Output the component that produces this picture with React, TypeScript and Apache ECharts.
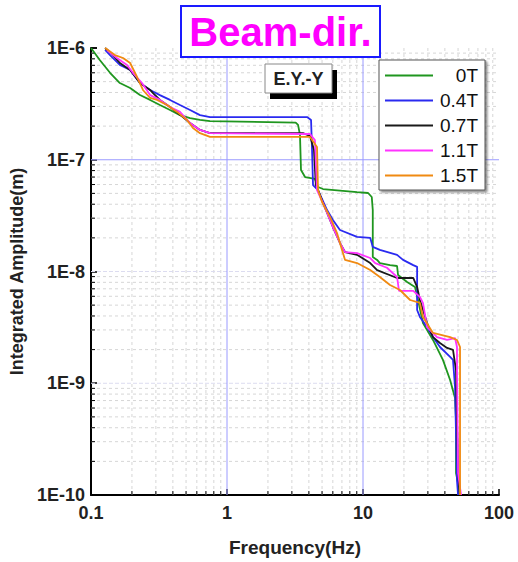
import React, { useEffect, useRef } from "react";
import * as echarts from "echarts";

const FONT = "'Liberation Sans', Arial, sans-serif";

const seriesNames = ["0T", "0.4T", "0.7T", "1.1T", "1.5T"];
const seriesColors = ["#1f961f", "#2a2af0", "#1a1a1a", "#ff33ff", "#f08a12"];

const xTickLabels = ["0.1", "1", "10", "100"];
const yTickLabels = ["1E-10", "1E-9", "1E-8", "1E-7", "1E-6"];

const X_MIN = 0.1;
const X_MAX = 100;
const Y_MIN = 1e-10;
const Y_MAX = 1e-6;

// highlighted (blue) reference lines
const blueX = [1, 10];
const blueY = [1e-7];
// faint decade lines
const faintY = [1e-9, 1e-8];

const minorX = [0.2, 0.3, 0.4, 0.5, 0.6, 0.7, 0.8, 0.9, 2, 3, 4, 5, 6, 7, 8, 9, 20, 30, 40, 50, 60, 70, 80, 90];
const minorY = [
  2e-10, 3e-10, 4e-10, 5e-10, 6e-10, 7e-10, 8e-10, 9e-10,
  2e-9, 3e-9, 4e-9, 5e-9, 6e-9, 7e-9, 8e-9, 9e-9,
  2e-8, 3e-8, 4e-8, 5e-8, 6e-8, 7e-8, 8e-8, 9e-8,
  2e-7, 3e-7, 4e-7, 5e-7, 6e-7, 7e-7, 8e-7, 9e-7,
];

// [frequency (Hz), integrated amplitude (m)]
const data0T: [number, number][] = [
  [0.1, 1e-6], [0.116, 7.8e-7], [0.138, 6.0e-7], [0.163, 4.86e-7], [0.194, 4.38e-7],
  [0.229, 3.8e-7], [0.272, 3.43e-7], [0.321, 3.09e-7], [0.381, 2.79e-7], [0.451, 2.51e-7],
  [0.535, 2.36e-7], [0.633, 2.27e-7], [0.75, 2.22e-7], [3.2, 2.15e-7], [3.33, 2.05e-7],
  [3.44, 1.67e-7], [3.5, 8.1e-8], [3.75, 7.0e-8], [4.43, 6.73e-8], [4.67, 5.7e-8],
  [5.08, 5.47e-8], [9.04, 5.14e-8], [10.9, 5.04e-8], [11.6, 4.64e-8], [11.8, 3.55e-8],
  [11.8, 1.35e-8], [12.7, 1.27e-8], [13.3, 1.19e-8], [15.8, 1.14e-8], [17.8, 1.12e-8],
  [18.1, 9.3e-9], [21.1, 8.05e-9], [24.1, 7.26e-9], [25.4, 5.56e-9], [27.6, 3.46e-9],
  [32.7, 2.44e-9], [38.7, 1.62e-9], [43.7, 1.07e-9], [47.5, 7.38e-10], [48.3, 4.69e-10],
  [48.3, 1.57e-10], [50.0, 1.28e-10], [50.8, 1e-10],
];

const data04T: [number, number][] = [
  [0.127, 9.6e-7], [0.138, 8.65e-7], [0.163, 7.05e-7], [0.194, 6.36e-7], [0.229, 4.86e-7],
  [0.272, 4.21e-7], [0.321, 3.79e-7], [0.381, 3.43e-7], [0.451, 3.09e-7], [0.535, 2.79e-7],
  [0.633, 2.51e-7], [0.75, 2.41e-7], [3.88, 2.41e-7], [4.15, 2.27e-7], [4.22, 1.22e-7],
  [4.29, 5.94e-8], [4.67, 5.36e-8], [5.44, 3.55e-8], [6.01, 2.89e-8], [6.77, 2.35e-8],
  [9.04, 2.04e-8], [11.3, 2.0e-8], [11.8, 1.66e-8], [13.3, 1.56e-8], [17.8, 1.41e-8],
  [19.7, 1.27e-8], [23.4, 1.14e-8], [25.0, 1.1e-8], [25.0, 4.52e-9], [26.2, 3.92e-9],
  [29.6, 3.18e-9], [32.7, 2.59e-9], [36.8, 2.11e-9], [43.7, 1.72e-9], [45.9, 1.62e-9],
  [47.5, 9.25e-10], [49.1, 1.36e-10], [50.0, 1e-10],
];

const data07T: [number, number][] = [
  [0.127, 1e-6], [0.145, 8.65e-7], [0.163, 7.34e-7], [0.194, 6.36e-7], [0.229, 4.86e-7],
  [0.272, 4.21e-7], [0.286, 3.95e-7], [0.321, 3.43e-7], [0.381, 2.96e-7], [0.474, 2.41e-7],
  [0.535, 2.13e-7], [0.633, 1.85e-7], [0.75, 1.73e-7], [3.62, 1.73e-7], [4.08, 1.63e-7],
  [4.36, 1.22e-7], [4.5, 5.94e-8], [4.67, 5.36e-8], [5.08, 4.1e-8], [6.01, 2.5e-8],
  [6.77, 1.8e-8], [7.38, 1.49e-8], [9.04, 1.41e-8], [11.3, 1.19e-8], [12.7, 1.03e-8],
  [17.8, 8.75e-9], [23.4, 8.75e-9], [25.0, 7.26e-9], [26.2, 5.56e-9], [29.6, 3.46e-9],
  [32.7, 2.59e-9], [36.8, 2.29e-9], [41.5, 2.07e-9], [45.9, 1.99e-9], [48.3, 1.31e-9],
  [49.1, 4.69e-10], [50.0, 1.57e-10], [51.7, 1e-10],
];

const data11T: [number, number][] = [
  [0.131, 9.6e-7], [0.155, 8.14e-7], [0.184, 7.05e-7], [0.204, 5.97e-7], [0.237, 4.86e-7],
  [0.272, 3.79e-7], [0.321, 3.43e-7], [0.381, 2.96e-7], [0.451, 2.68e-7], [0.535, 2.13e-7],
  [0.633, 1.85e-7], [0.75, 1.73e-7], [4.08, 1.7e-7], [4.43, 1.5e-7], [4.59, 5.36e-8],
  [5.08, 4.1e-8], [6.01, 2.5e-8], [6.77, 1.8e-8], [7.38, 1.49e-8], [9.04, 1.46e-8],
  [11.3, 1.32e-8], [12.3, 1.19e-8], [15.0, 1.08e-8], [17.8, 8.93e-9], [18.4, 6.7e-9],
  [23.4, 6.7e-9], [26.2, 5.92e-9], [27.6, 5.23e-9], [29.6, 3.18e-9], [35.0, 2.59e-9],
  [41.5, 2.44e-9], [47.5, 2.54e-9], [49.1, 2.11e-9], [49.1, 1.31e-9], [50.0, 1.57e-10],
  [52.6, 1e-10],
];

const data15T: [number, number][] = [
  [0.127, 1e-6], [0.15, 8.65e-7], [0.172, 8.14e-7], [0.194, 7.34e-7], [0.218, 5.5e-7],
  [0.241, 4.21e-7], [0.272, 3.57e-7], [0.306, 3.43e-7], [0.362, 3.09e-7], [0.429, 2.68e-7],
  [0.508, 2.27e-7], [0.562, 1.92e-7], [0.633, 1.73e-7], [0.75, 1.6e-7], [4.08, 1.6e-7],
  [4.59, 1.3e-7], [4.67, 5.36e-8], [5.0, 4.19e-8], [5.72, 3.08e-8], [6.44, 2.21e-8],
  [7.01, 1.56e-8], [7.38, 1.27e-8], [9.04, 1.19e-8], [11.3, 1.03e-8], [13.3, 8.93e-9],
  [15.8, 7.57e-9], [18.7, 6.83e-9], [22.2, 5.56e-9], [26.2, 5.23e-9], [27.6, 3.92e-9],
  [32.7, 2.82e-9], [43.7, 2.59e-9], [49.1, 2.44e-9], [51.7, 2.11e-9], [51.7, 1e-10],
];

const seriesData = [data0T, data04T, data07T, data11T, data15T];

function vLineSeries(name: string, values: number[], stroke: string, dash: number[] | null, tick: boolean, z: number) {
  return {
    type: "custom",
    name,
    silent: true,
    z,
    data: values.map((v) => [v, Y_MIN]),
    encode: { x: 0, y: 1 },
    renderItem: (_p: any, api: any) => {
      const v = api.value(0);
      const b = api.coord([v, Y_MIN]);
      const t = api.coord([v, Y_MAX]);
      const children: any[] = [
        { type: "line", shape: { x1: b[0], y1: b[1], x2: t[0], y2: t[1] }, style: { stroke, lineWidth: 1, lineDash: dash || undefined } },
      ];
      if (tick) children.push({ type: "line", shape: { x1: b[0], y1: b[1], x2: b[0], y2: b[1] - 4 }, style: { stroke: "#000", lineWidth: 1 } });
      return { type: "group", children };
    },
  };
}

function hLineSeries(name: string, values: number[], stroke: string, dash: number[] | null, tick: boolean, z: number) {
  return {
    type: "custom",
    name,
    silent: true,
    z,
    data: values.map((v) => [X_MIN, v]),
    encode: { x: 0, y: 1 },
    renderItem: (_p: any, api: any) => {
      const v = api.value(1);
      const l = api.coord([X_MIN, v]);
      const r = api.coord([X_MAX, v]);
      const children: any[] = [
        { type: "line", shape: { x1: l[0], y1: l[1], x2: r[0], y2: r[1] }, style: { stroke, lineWidth: 1, lineDash: dash || undefined } },
      ];
      if (tick) children.push({ type: "line", shape: { x1: l[0], y1: l[1], x2: l[0] + 4, y2: l[1] }, style: { stroke: "#000", lineWidth: 1 } });
      return { type: "group", children };
    },
  };
}

export default function App() {
  const ref = useRef<HTMLDivElement>(null);

  useEffect(() => {
    if (!ref.current) return;
    const chart = echarts.init(ref.current, null, { renderer: "svg" });

    const lineSeries = seriesNames.map((name, i) => ({
      type: "line",
      name,
      data: seriesData[i],
      showSymbol: false,
      z: 5 + i,
      lineStyle: { color: seriesColors[i], width: 1.8 },
      itemStyle: { color: seriesColors[i] },
    }));

    chart.setOption({
      animation: false,
      backgroundColor: "#fff",
      grid: { left: 91, right: 19, top: 48, bottom: 67 },
      xAxis: {
        type: "log",
        logBase: 10,
        min: X_MIN,
        max: X_MAX,
        name: "Frequency(Hz)",
        nameLocation: "middle",
        nameGap: 43,
        nameTextStyle: { fontFamily: FONT, fontWeight: "bold", fontSize: 19, color: "#222" },
        axisLine: { lineStyle: { color: "#000", width: 2 } },
        axisTick: { inside: true, length: 6, lineStyle: { color: "#000", width: 1.5 } },
        axisLabel: {
          formatter: (_v: number, i: number) => xTickLabels[i],
          fontFamily: FONT,
          fontWeight: "bold",
          fontSize: 18,
          color: "#222",
          margin: 9,
        },
        splitLine: { show: false },
      },
      yAxis: {
        type: "log",
        logBase: 10,
        min: Y_MIN,
        max: Y_MAX,
        name: "Integrated Amplitude(m)",
        nameLocation: "middle",
        nameGap: 61,
        nameTextStyle: { fontFamily: FONT, fontWeight: "bold", fontSize: 18, color: "#222" },
        axisLine: { lineStyle: { color: "#000", width: 2 } },
        axisTick: { inside: true, length: 6, lineStyle: { color: "#000", width: 1.5 } },
        axisLabel: {
          formatter: (_v: number, i: number) => yTickLabels[i],
          fontFamily: FONT,
          fontWeight: "bold",
          fontSize: 18,
          color: "#222",
          margin: 6,
        },
        splitLine: { show: false },
      },
      legend: {
        data: seriesNames,
        orient: "vertical",
        left: 379,
        top: 60,
        backgroundColor: "#fff",
        borderColor: "#555",
        borderWidth: 1,
        shadowColor: "rgba(0,0,0,0.45)",
        shadowOffsetX: 2,
        shadowOffsetY: 2,
        shadowBlur: 2,
        padding: [6, 7, 5, 6],
        icon: "rect",
        itemWidth: 48,
        itemHeight: 2,
        itemGap: 6,
        formatter: (name: string) => `{a|${name}}`,
        textStyle: {
          rich: {
            a: { width: 40, align: "right", fontSize: 19, fontFamily: FONT, color: "#111", lineHeight: 20 },
          },
        },
      },
      graphic: [
        { type: "rect", shape: { x: 181, y: 6, width: 199, height: 51 }, style: { fill: "#fff", stroke: "#1a1aff", lineWidth: 2 }, z: 10 },
        { type: "text", x: 280.5, y: 32, style: { text: "Beam-dir.", fill: "#ff00ff", font: `bold 40px ${FONT}`, align: "center", verticalAlign: "middle" }, z: 11 },
        { type: "rect", shape: { x: 270, y: 70, width: 67, height: 29 }, style: { fill: "#000" }, z: 10 },
        { type: "rect", shape: { x: 265, y: 64, width: 67, height: 29 }, style: { fill: "#fff", stroke: "#888", lineWidth: 1 }, z: 11 },
        { type: "text", x: 298.5, y: 79, style: { text: "E.Y.-Y", fill: "#222", font: `bold 18px ${FONT}`, align: "center", verticalAlign: "middle" }, z: 12 },
      ],
      series: [
        vLineSeries("minorX", minorX, "#d6d6d6", [3, 3], true, 1),
        hLineSeries("minorY", minorY, "#d6d6d6", [3, 3], true, 1),
        hLineSeries("faintY", faintY, "#dcdcf0", [4, 2], false, 1),
        vLineSeries("blueX", blueX, "#9a9aff", null, false, 2),
        hLineSeries("blueY", blueY, "#9a9aff", null, false, 2),
        ...lineSeries,
      ],
    });

    return () => chart.dispose();
  }, []);

  return <div ref={ref} style={{ width: 518, height: 562, position: "absolute", left: 0, top: 0 }} />;
}
